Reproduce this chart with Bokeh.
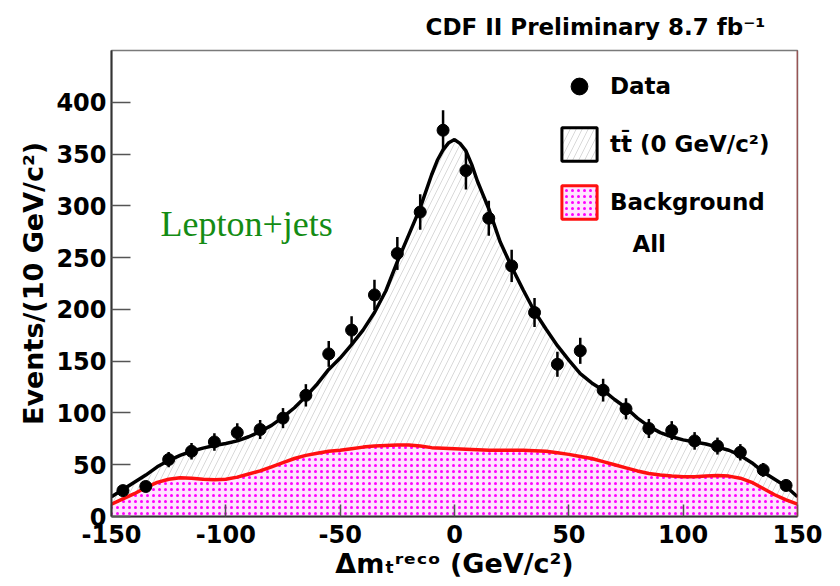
from bokeh.plotting import figure
from bokeh.models import (ColumnDataSource, Label, Span, Legend, LegendItem,
                          FixedTicker, Title)
from bokeh.embed import file_html
from bokeh.resources import INLINE

# ---------------- data ----------------
bin_centers = [-145, -135, -125, -115, -105, -95, -85, -75, -65, -55,
               -45, -35, -25, -15, -5, 5, 15, 25, 35, 45,
               55, 65, 75, 85, 95, 105, 115, 125, 135, 145]
data_counts = [25, 29, 55, 63, 72, 81, 84, 95, 117, 157,
               180, 214, 254, 294, 373, 334, 288, 242, 197, 147,
               160, 122, 104, 85, 83, 73, 68, 62, 45, 30]
data_errors = [5.0, 5.4, 7.4, 7.9, 8.5, 9.0, 9.2, 9.7, 10.8, 12.5,
               13.4, 14.6, 15.9, 17.1, 19.3, 18.3, 17.0, 15.6, 14.0, 12.1,
               12.6, 11.0, 10.2, 9.2, 9.1, 8.5, 8.2, 7.9, 6.7, 5.5]

# total expectation (ttbar + background) curve
total_x = [-150, -145, -140, -135, -130, -125, -120, -115, -110, -105,
           -100, -95, -90, -85, -80, -75, -70, -65, -60, -55,
           -50, -45, -40, -35, -30, -25, -20, -15, -10, -7.5,
           -5, -2.5, 0, 2.5, 5, 7.5, 10, 15, 20, 25,
           30, 35, 40, 45, 50, 55, 60, 65, 70, 75,
           80, 85, 90, 95, 100, 105, 110, 115, 120, 125,
           130, 135, 140, 145, 150]
total_y = [19, 26, 33, 40, 48, 54, 59, 63, 66, 68.5,
           70.5, 73, 77, 82, 88, 96, 105, 116, 128, 142,
           153, 166, 180, 197, 218, 246, 272, 298, 330, 344,
           354, 361, 364, 360, 353, 340, 324, 297, 265, 241,
           219, 198, 181, 165, 151, 138, 129, 122, 113, 105,
           95, 87, 81, 77, 74, 72, 70, 67, 64, 59,
           52, 43, 36, 29, 19]

# background-only curve
bg_x = [-150, -145, -140, -135, -130, -125, -120, -115, -110, -105,
        -100, -95, -90, -85, -80, -75, -70, -65, -60, -55,
        -50, -45, -40, -35, -30, -25, -20, -15, -10, -5,
        0, 5, 10, 15, 20, 25, 30, 35, 40, 45,
        50, 55, 60, 65, 70, 75, 80, 85, 90, 95,
        100, 105, 110, 115, 120, 125, 130, 135, 140, 145, 150]
bg_y = [12, 17, 22, 28, 33, 36, 37.5, 37, 36, 35.5,
        36, 38, 41, 44, 48, 52, 56, 59, 61, 63,
        64, 65.5, 67, 68, 68.5, 69, 69, 68, 66.5, 66,
        65.5, 65, 64.5, 64, 64, 64, 64, 63.5, 63, 61.5,
        60, 58, 56, 53, 50, 47, 44, 41.5, 40, 39,
        38.5, 38.5, 39, 39.5, 39, 37, 33, 27, 21, 16, 12]

x_ticks = [-150, -100, -50, 0, 50, 100, 150]
x_tick_labels = ["-150", "-100", "-50", "0", "50", "100", "150"]
y_ticks = [0, 50, 100, 150, 200, 250, 300, 350, 400]

# ---------------- figure ----------------
p = figure(width=840, height=586, output_backend="svg", toolbar_location=None,
           x_range=(-150, 150), y_range=(0, 450),
           min_border_left=111, min_border_right=43,
           min_border_top=50, min_border_bottom=70)
p.xgrid.visible = False
p.ygrid.visible = False
p.background_fill_color = "white"
p.border_fill_color = "white"
p.outline_line_color = "#7a7a7a"
p.outline_line_width = 1.5

data_src = ColumnDataSource(dict(
    x=bin_centers, y=data_counts,
    lo=[c - e for c, e in zip(data_counts, data_errors)],
    hi=[c + e for c, e in zip(data_counts, data_errors)]))
tot_src = ColumnDataSource(dict(x=total_x, y=total_y))
bg_src = ColumnDataSource(dict(x=bg_x, y=bg_y))

TT_HATCH = dict(fill_color="white", hatch_pattern="/", hatch_color="#d9d9d9",
                hatch_scale=12, hatch_weight=1)
BG_HATCH = dict(fill_color="#ffe4ff", hatch_pattern=".", hatch_color="#ff00ff",
                hatch_scale=6, hatch_weight=3)

# stacked areas
p.varea(x="x", y1=0, y2="y", source=tot_src, **TT_HATCH)
p.varea(x="x", y1=0, y2="y", source=bg_src, **BG_HATCH)
p.line(x="x", y="y", source=bg_src, line_color="#ff1010", line_width=3.5)
p.line(x="x", y="y", source=tot_src, line_color="black", line_width=3.5)

# data with error bars
p.segment(x0="x", y0="lo", x1="x", y1="hi", source=data_src,
          line_color="black", line_width=2.5)
data_r = p.scatter(x="x", y="y", source=data_src, size=12,
                   fill_color="black", line_color="black")

# legend-only renderers (a single polygon vertex each, draws nothing)
tt_dummy = p.patch(x=total_x[:1], y=total_y[:1], line_color="black",
                   line_width=3, **TT_HATCH)
bg_dummy = p.patch(x=bg_x[:1], y=bg_y[:1], line_color="#ff1010",
                   line_width=3, **BG_HATCH)

legend = Legend(items=[
    LegendItem(label="Data", renderers=[data_r]),
    LegendItem(label="tt\u0304 (0 GeV/c\u00b2)", renderers=[tt_dummy]),
    LegendItem(label="Background", renderers=[bg_dummy]),
], location=(446, 293), glyph_width=44, glyph_height=42, spacing=16,
    label_standoff=9, padding=0, margin=0,
    border_line_alpha=0, background_fill_alpha=0,
    label_text_font="DejaVu Sans", label_text_font_style="bold",
    label_text_font_size="23px", label_text_color="black")
p.add_layout(legend)

# ---------------- axes ----------------
for ax in (p.xaxis, p.yaxis):
    ax.minor_tick_line_color = None
    ax.major_tick_out = 0
    ax.axis_line_color = "#333333"
    ax.axis_line_width = 2
    ax.major_tick_line_color = "#555555"
    ax.major_tick_line_width = 1.5
    ax.major_label_text_font = "DejaVu Sans"
    ax.major_label_text_font_style = "bold"
    ax.major_label_text_font_size = "24px"
    ax.major_label_text_color = "black"

p.xaxis.ticker = FixedTicker(ticks=x_ticks)
p.xaxis.major_label_overrides = {t: s for t, s in zip(x_ticks, x_tick_labels)}
p.yaxis.ticker = FixedTicker(ticks=y_ticks)
p.xaxis.major_tick_in = 12
p.yaxis.major_tick_in = 19
p.xaxis.major_label_standoff = 8
p.yaxis.major_label_standoff = 5

p.yaxis.axis_label = "Events/(10 GeV/c\u00b2)"
p.yaxis.axis_label_text_font = "DejaVu Sans"
p.yaxis.axis_label_text_font_style = "bold"
p.yaxis.axis_label_text_font_size = "27px"
p.yaxis.axis_label_text_color = "black"
p.yaxis.axis_label_standoff = 4

p.xaxis.axis_label = "\u0394m\u209c\u02b3\u1d49\u1d9c\u1d52 (GeV/c\u00b2)"
p.xaxis.axis_label_text_font = "DejaVu Sans"
p.xaxis.axis_label_text_font_style = "bold"
p.xaxis.axis_label_text_font_size = "27px"
p.xaxis.axis_label_text_color = "black"
p.xaxis.axis_label_standoff = 2

p.add_layout(Span(location=150, dimension="height", line_color="#b03030",
                  line_width=1.5))

# title (top right)
p.add_layout(Title(text="CDF II Preliminary 8.7 fb\u207b\u00b9", align="left",
                   offset=314, standoff=22, text_font="DejaVu Sans",
                   text_font_style="bold", text_font_size="23px",
                   text_color="black"), "above")

# ---------------- texts inside frame ----------------
def lab(x, y, text, size, font="DejaVu Sans", style="bold", color="black"):
    p.add_layout(Label(x=x, y=y, text=text, text_font=font,
                       text_font_style=style, text_font_size=size,
                       text_color=color, text_baseline="alphabetic"))

lab(-128.6, 282, "Lepton+jets", "36px", font="Liberation Serif",
    style="normal", color="#148c14")
lab(77.8, 263, "All", "23px")

open("out.html", "w").write(file_html(p, INLINE))
